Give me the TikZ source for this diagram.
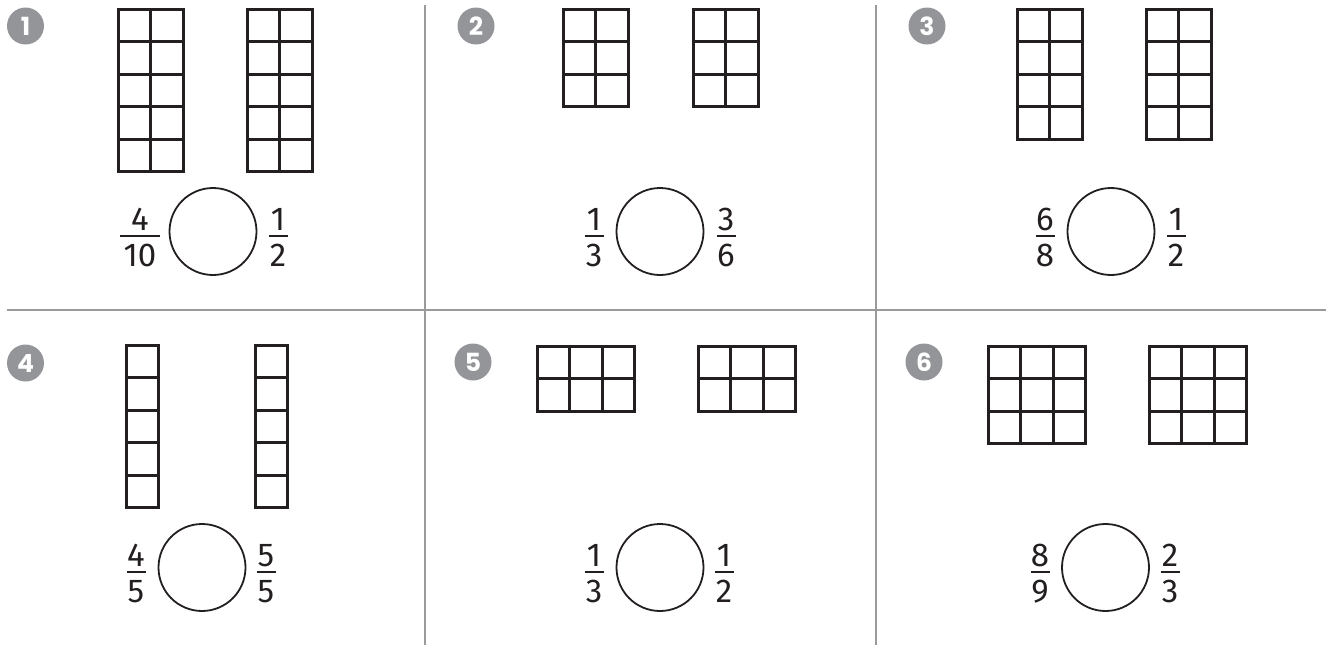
\documentclass[tikz,border=0pt]{standalone}
\usepackage{fontspec}
\setmainfont{Fira Sans}
\newfontfamily\badgefont{Poppins}
\definecolor{badgegray}{HTML}{939598}
\definecolor{rulegray}{HTML}{9A9A9A}
\definecolor{ink}{HTML}{231F20}
\tikzset{
  cell/.style={draw=ink, line width=3pt},
  cmp/.style={circle, draw=ink, line width=1.8pt, minimum size=87pt, inner sep=0pt},
  dig/.style={inner sep=0pt, text=ink, font=\fontsize{33}{33}\selectfont},
  fbar/.style={draw=ink, line width=1.6pt},
  badge/.style={circle, fill=badgegray, minimum size=37pt, inner sep=0pt, text=white,
    font=\badgefont\bfseries\fontsize{25}{25}\selectfont},
  divider/.style={draw=rulegray, line width=2.5pt}
}
% \Grid{x}{y}{cols}{rows}
\newcommand\Grid[4]{%
  \foreach \i in {1,...,#3}{\foreach \j in {1,...,#4}{%
    \draw[cell] ({#1+(\i-1)*32.5},{#2+(\j-1)*32.5}) rectangle ++(32.5,32.5);}}}
% \Frac{name}{x}{bar y}{num}{den}{half bar width}
\newcommand\Frac[6]{%
  \node[dig, anchor=base] (#1n) at (#2,#3-6) {#4};
  \node[dig, anchor=base] (#1d) at (#2,#3+30) {#5};
  \coordinate (#1l) at (#2-#6,#3);
  \coordinate (#1r) at (#2+#6,#3);
  \draw[fbar] (#1l) -- (#1r);}
\begin{document}
\begin{tikzpicture}[x=1pt,y=-1pt]
\useasboundingbox (0,0) rectangle (1326,645);
% dividers
\coordinate (v1t) at (425,5);  \coordinate (v1b) at (425,645);
\coordinate (v2t) at (876,5);  \coordinate (v2b) at (876,645);
\coordinate (hl) at (7,310);   \coordinate (hr) at (1326,310);
\draw[divider] (v1t) -- (v1b);
\draw[divider] (v2t) -- (v2b);
\draw[divider] (hl) -- (hr);
% badges
\node[badge] (b1) at (25.5,26) {1};
\node[badge] (b2) at (476,26) {2};
\node[badge] (b3) at (927,26) {3};
\node[badge] (b4) at (25.5,363) {4};
\node[badge] (b5) at (473,362) {5};
\node[badge] (b6) at (924,362) {6};
% grids
\Grid{118}{9}{2}{5}   \Grid{247}{9}{2}{5}
\Grid{563}{9}{2}{3}   \Grid{693}{9}{2}{3}
\Grid{1017}{9}{2}{4}  \Grid{1146}{9}{2}{4}
\Grid{126}{345}{1}{5} \Grid{255}{345}{1}{5}
\Grid{537}{346}{3}{2} \Grid{698}{346}{3}{2}
\Grid{988}{346}{3}{3} \Grid{1149}{346}{3}{3}
% circles
\node[cmp] (c1) at (213,231.5) {};
\node[cmp] (c2) at (660,231.5) {};
\node[cmp] (c3) at (1111,231.5) {};
\node[cmp] (c4) at (202,567.5) {};
\node[cmp] (c5) at (660,567.5) {};
\node[cmp] (c6) at (1105.5,567.5) {};
% fractions
\Frac{f1a}{140}{236}{4}{10}{20}
\Frac{f1b}{278}{236}{1}{2}{9.5}
\Frac{f2a}{594}{236}{1}{3}{9.5}
\Frac{f2b}{726}{236}{3}{6}{9.5}
\Frac{f3a}{1045}{236}{6}{8}{9.5}
\Frac{f3b}{1176}{236}{1}{2}{9.5}
\Frac{f4a}{136}{572}{4}{5}{9.5}
\Frac{f4b}{266}{572}{5}{5}{9.5}
\Frac{f5a}{594}{572}{1}{3}{9.5}
\Frac{f5b}{724}{572}{1}{2}{9.5}
\Frac{f6a}{1040}{572}{8}{9}{9.5}
\Frac{f6b}{1170}{572}{2}{3}{9.5}
\end{tikzpicture}
\end{document}
